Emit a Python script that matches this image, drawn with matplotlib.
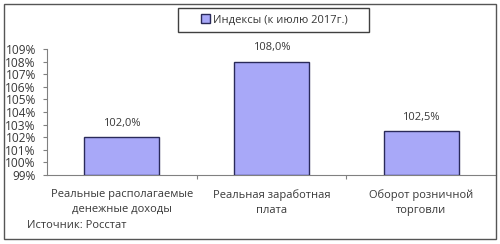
import matplotlib
matplotlib.use("Agg")
import matplotlib.pyplot as plt
from matplotlib.patches import Rectangle

categories = ["Реальные располагаемые\nденежные доходы", "Реальная заработная\nплата", "Оборот розничной\nторговли"]
values = [102.0, 108.0, 102.5]
value_labels = ["102,0%", "108,0%", "102,5%"]
yticks = [99, 100, 101, 102, 103, 104, 105, 106, 107, 108, 109]
legend_label = "Индексы (к июлю 2017г.)"
source = "Источник: Росстат"

plt.rcParams['font.family'] = ['Open Sans', 'DejaVu Sans']
fs = 8.0
txtc = '#383838'

W, H = 500, 244
fig = plt.figure(figsize=(5.0, 2.44), dpi=100)
fig.patch.set_facecolor('white')

# outer border
fig.add_artist(Rectangle((4/W, 1 - 239/H), 492/W, 235/H, transform=fig.transFigure,
                         fill=False, edgecolor='#555555', linewidth=1.0))

ax = fig.add_axes([47/W, 1 - 175/H, 449/W, 126/H])
ax.bar(range(len(values)), [v - 99 for v in values], bottom=99, width=0.5,
       color='#A8A8F8', edgecolor='#2A2A5A', linewidth=1.0, label=legend_label, zorder=3)
ax.set_xlim(-0.5, 2.5)
ax.set_ylim(99, 109)
ax.set_yticks(yticks)
ax.set_yticklabels([f"{t}%" for t in yticks], fontsize=8.6, color=txtc)
ax.set_xticks([0.5, 1.5])
ax.set_xticklabels([])
ax.tick_params(axis='y', length=3, width=0.8, color='#808080', pad=5)
ax.tick_params(axis='x', length=3, width=0.8, color='#808080', direction='out')
for s in ['top', 'right']:
    ax.spines[s].set_visible(False)
for s in ['left', 'bottom']:
    ax.spines[s].set_color('#808080')
    ax.spines[s].set_linewidth(0.8)

for i, (v, lab) in enumerate(zip(values, value_labels)):
    ax.annotate(lab, (i, v), xytext=(0, 6), textcoords='offset points',
                ha='center', va='bottom', fontsize=fs, color=txtc)
for i, c in enumerate(categories):
    ax.annotate(c, (i, 99), xytext=(0, -10), textcoords='offset points',
                ha='center', va='top', fontsize=fs, color=txtc, linespacing=1.5,
                annotation_clip=False)

fig.text(27/W, 1 - 225/H, source, fontsize=fs, color=txtc, va='center', ha='left')

# legend frame drawn separately so that its padding matches the reference
fig.add_artist(Rectangle((178/W, 1 - 32/H), 191/W, 24/H, transform=fig.transFigure,
                         fill=False, edgecolor='#404040', linewidth=1.0))
leg = fig.legend(loc='center left', bbox_to_anchor=(199/W, 1 - 20/H), fontsize=fs,
                 frameon=False, handlelength=0.8, handleheight=0.8, handletextpad=0.3,
                 borderpad=0.2, borderaxespad=0)
for t in leg.get_texts():
    t.set_color(txtc)

fig.savefig('out.png', dpi=100, facecolor='white')
